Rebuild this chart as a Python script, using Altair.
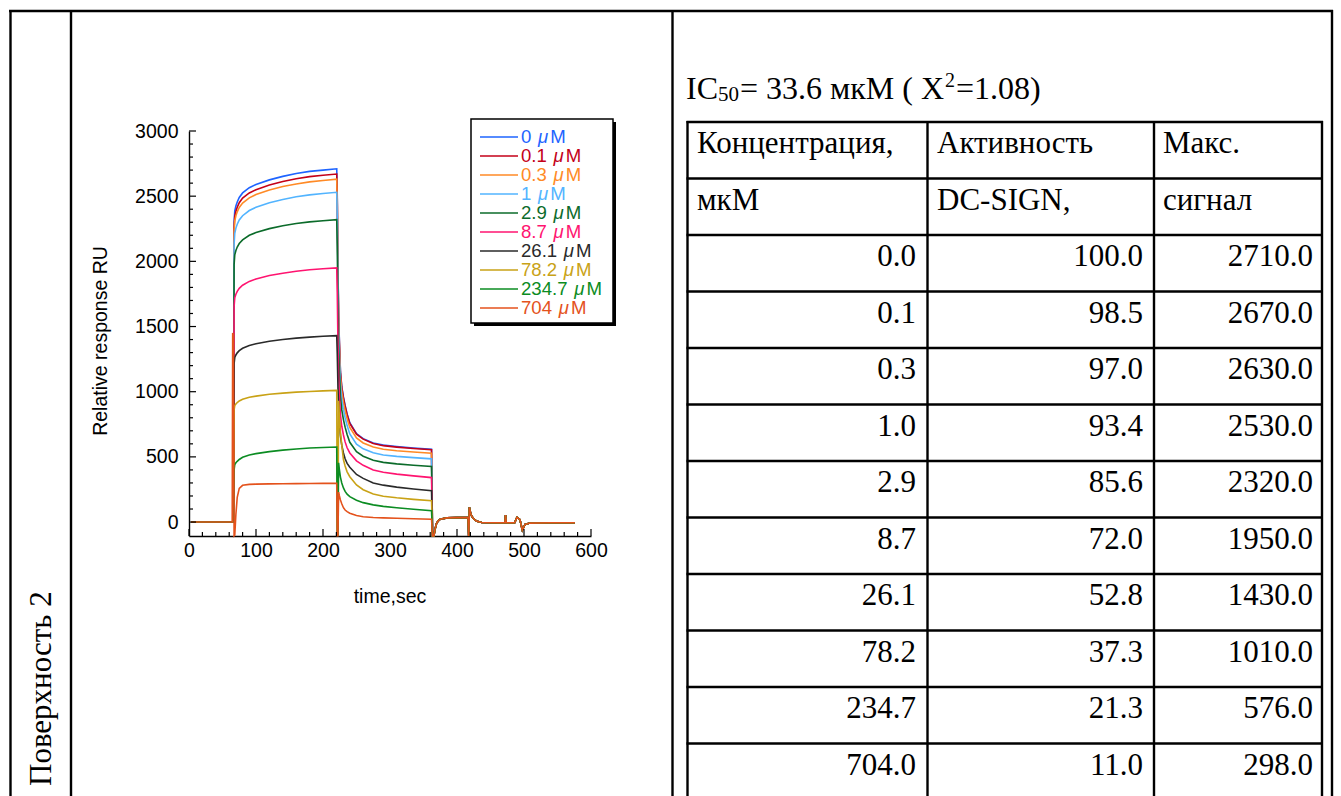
import altair as alt
import pandas as pd

# ---------------- data ----------------
CONC_LABELS = ["0", "0.1", "0.3", "1", "2.9", "8.7", "26.1", "78.2", "234.7", "704"]
COLORS = ["#1e64ff", "#c40018", "#ff8a26", "#52b4ff", "#0b6b2a",
          "#ff1470", "#2a2a2a", "#c9a216", "#0b8c22", "#e4521c"]

# association phase (time, s)
T_ASSOC = [3, 64.5, 65.2, 66.2, 67.3, 68.3, 70, 72, 75, 80, 90, 100, 120, 140, 160, 180, 200, 220.5]
A_0 = [0, 0, 0, 0, 2300, 2385, 2425, 2455, 2490, 2525, 2565, 2590, 2625, 2652, 2674, 2690, 2700, 2710]
A_01 = [0, 0, 0, 0, 2260, 2345, 2385, 2415, 2450, 2485, 2525, 2550, 2585, 2612, 2634, 2650, 2660, 2670]
A_03 = [0, 0, 0, 0, 2225, 2310, 2350, 2380, 2413, 2447, 2487, 2513, 2548, 2574, 2594, 2610, 2620, 2630]
A_1 = [0, 0, 0, 0, 2130, 2215, 2255, 2285, 2318, 2350, 2390, 2415, 2450, 2475, 2495, 2510, 2520, 2530]
A_29 = [0, 0, 0, 0, 1975, 2050, 2083, 2110, 2137, 2165, 2200, 2221, 2251, 2273, 2290, 2303, 2311, 2320]
A_87 = [0, 0, 0, 0, 1655, 1720, 1748, 1770, 1793, 1817, 1846, 1865, 1891, 1909, 1924, 1935, 1943, 1950]
A_261 = [0, 0, 0, 0, 1215, 1262, 1282, 1298, 1315, 1333, 1354, 1368, 1387, 1400, 1411, 1419, 1425, 1430]
A_782 = [0, 0, 0, 0, 860, 893, 906, 917, 929, 942, 957, 966, 980, 989, 997, 1002, 1006, 1010]
A_2347 = [0, 0, 0, 0, 400, 440, 455, 466, 480, 497, 514, 525, 540, 552, 561, 568, 572, 576]
A_704 = [0, 0, 1450, 1440, -105, -100, 60, 190, 258, 282, 289, 291, 293, 294, 295, 296, 297, 298]

# dissociation phase
T_DISS = [221.3, 222.3, 223.3, 224.5, 226, 228, 230.5, 233, 236, 240, 250, 260, 275, 290, 310, 335, 362]
D_0 = [2500, 1950, 1600, 1380, 1160, 1040, 960, 895, 830, 762, 678, 640, 607, 590, 579, 568, 559]
D_01 = [2465, 1930, 1585, 1370, 1150, 1032, 952, 888, 824, 757, 674, 636, 603, 586, 575, 564, 555]
D_03 = [2430, 1900, 1550, 1335, 1115, 998, 918, 855, 792, 726, 645, 607, 575, 558, 547, 537, 528]
D_1 = [2330, 1820, 1480, 1270, 1055, 940, 862, 800, 740, 676, 598, 562, 532, 515, 504, 494, 485]
D_29 = [2120, 1660, 1350, 1160, 965, 860, 786, 728, 672, 612, 540, 505, 474, 458, 446, 436, 426]
D_87 = [1760, 1380, 1130, 975, 825, 735, 668, 615, 570, 530, 470, 435, 400, 382, 368, 354, 341]
D_261 = [1290, 1040, 880, 770, 660, 590, 530, 485, 450, 420, 365, 335, 300, 283, 268, 254, 241]
D_782 = [-100, -100, 930, 800, 690, 590, 480, 430, 385, 348, 285, 248, 215, 198, 186, 174, 164]
D_2347 = [-100, -100, 454, 400, 345, 300, 262, 235, 214, 195, 168, 149, 132, 120, 110, 98, 87]
D_704 = [-105, -105, 230, 200, 170, 140, 110, 92, 80, 68, 50, 41, 35, 32, 29, 25, 21]

# regeneration / wash (common to all curves)
T_REGEN = [363.5, 365.5, 367, 369.5, 372, 375, 385, 400, 416.5, 417.5, 418.5, 420, 422, 424.5,
           427, 430, 437, 460, 471.5, 472.5, 473.5, 486, 489.5, 494, 497.5, 501.5, 509, 540, 576]
V_REGEN = [-107, -107, -60, -10, 10, 22, 32, 34, 34, -107, 113, 75, 45, 28,
           15, 6, -4, -5, -5, 54, -5, -5, 36, 18, -62, -18, -8, -5, -5]

X_LABELS = [0, 100, 200, 300, 400, 500, 600]
Y_LABELS = [0, 500, 1000, 1500, 2000, 2500, 3000]
X_MINOR = [v for v in range(20, 600, 20) if v % 100]
Y_MINOR = [v for v in range(100, 3000, 100) if v % 500]

# table on the right
IC50_PARTS = ["IC", "50", "= 33.6 мкМ ( X", "2", "=1.08)"]
HEADER_1 = ["Концентрация,", "Активность", "Макс."]
HEADER_2 = ["мкМ", "DC-SIGN,", "сигнал"]
CONC_UM = [0.0, 0.1, 0.3, 1.0, 2.9, 8.7, 26.1, 78.2, 234.7, 704.0]
ACTIVITY = [100.0, 98.5, 97.0, 93.4, 85.6, 72.0, 52.8, 37.3, 21.3, 11.0]
MAX_SIGNAL = [2710.0, 2670.0, 2630.0, 2530.0, 2320.0, 1950.0, 1430.0, 1010.0, 576.0, 298.0]

# ---------------- build tables ----------------
ASSOC = [A_0, A_01, A_03, A_1, A_29, A_87, A_261, A_782, A_2347, A_704]
DISS = [D_0, D_01, D_03, D_1, D_29, D_87, D_261, D_782, D_2347, D_704]
rows = []
for i, lab in enumerate(CONC_LABELS):
    ts = T_ASSOC + T_DISS + T_REGEN
    vs = ASSOC[i] + DISS[i] + V_REGEN
    for t, v in zip(ts, vs):
        rows.append({"series": lab, "t": t, "v": v})
curves = pd.DataFrame(rows)

SANS = "Liberation Sans"
SERIF = "Liberation Serif"
FS = 19.5
FS_LEG = 18.6
FS_DOC = 31

# legend layout helpers (Arial metrics)
W = {"0": .556, "1": .556, "2": .556, "3": .556, "4": .556, "5": .556, "6": .556,
     "7": .556, "8": .556, "9": .556, ".": .278, " ": .278}
LEG_X = 521
leg = pd.DataFrame({
    "i": list(range(len(CONC_LABELS))),
    "series": CONC_LABELS,
})
leg["x_mu"] = [LEG_X + (sum(W[c] for c in s) + W[" "]) * FS_LEG + 1.5 for s in CONC_LABELS]
leg["x_M"] = leg["x_mu"] + 0.576 * FS_LEG + 1.5

tbl = pd.DataFrame({"r": list(range(10)), "conc": CONC_UM, "act": ACTIVITY, "mx": MAX_SIGNAL})
hdr = pd.DataFrame({"r": [-2, -2, -2, -1, -1, -1],
                    "txt": HEADER_1 + HEADER_2,
                    "col": [0, 1, 2, 0, 1, 2]})
bounds = pd.DataFrame({"k": list(range(-2, 10))})
ONE = pd.DataFrame({"d": [0]})

# ---------------- sensorgram ----------------
x_scale = alt.Scale(domain=[0, 600], range=[189, 591], nice=False, zero=False)
y_scale = alt.Scale(domain=[-107, 3000], range=[536, 131], nice=False, zero=False)
c_scale = alt.Scale(domain=CONC_LABELS, range=COLORS)

x_axis = alt.Axis(values=X_LABELS, format="d", orient="bottom", offset=-260, title=None,
                  grid=False, ticks=False, domainColor="black", domainWidth=1.4,
                  labelFont=SANS, labelFontSize=FS, labelColor="black", labelPadding=5,
                  labelFlush=False, labelOverlap=False)
y_axis = alt.Axis(values=Y_LABELS, format="d", orient="left", offset=-189, title=None,
                  grid=False, ticks=False, domainColor="black", domainWidth=1.4,
                  labelFont=SANS, labelFontSize=FS, labelColor="black", labelPadding=11,
                  labelFlush=False, labelOverlap=False)

lines = alt.Chart(curves).mark_line(strokeWidth=1.6).encode(
    x=alt.X("t:Q", scale=x_scale, axis=x_axis),
    y=alt.Y("v:Q", scale=y_scale, axis=y_axis),
    color=alt.Color("series:N", scale=c_scale, legend=None),
)

def xticks(vals, length):
    return alt.Chart(pd.DataFrame({"t": vals})).mark_rule(color="black", strokeWidth=1.2).encode(
        x=alt.X("t:Q", scale=x_scale, axis=x_axis),
        y=alt.value(536), y2=alt.value(536 - length))

def yticks(vals, length):
    return alt.Chart(pd.DataFrame({"v": vals})).mark_rule(color="black", strokeWidth=1.2).encode(
        y=alt.Y("v:Q", scale=y_scale, axis=y_axis),
        x=alt.value(189), x2=alt.value(189 + length))

sensor = alt.layer(lines, xticks(X_LABELS, 7), xticks(X_MINOR, 4),
                   yticks(Y_LABELS, 7), yticks(Y_MINOR, 4))

# ---------------- legend ----------------
leg_scale = alt.Scale(domain=[0, 9], range=[137, 308])
leg_y = alt.Y("i:Q", scale=leg_scale, axis=None)
leg_c = alt.Color("series:N", scale=c_scale, legend=None)

box_shadow = alt.Chart(ONE).mark_rect(color="black").encode(
    x=alt.value(474), x2=alt.value(616), y=alt.value(122), y2=alt.value(326))
box = alt.Chart(ONE).mark_rect(fill="white", stroke="black", strokeWidth=1.5).encode(
    x=alt.value(471), x2=alt.value(613), y=alt.value(119), y2=alt.value(323))
leg_lines = alt.Chart(leg).mark_rule(strokeWidth=1.3).encode(
    x=alt.value(480), x2=alt.value(518), y=leg_y, color=leg_c)
leg_num = alt.Chart(leg).mark_text(align="left", baseline="middle", font=SANS, fontSize=FS_LEG).encode(
    x=alt.value(LEG_X), y=leg_y, text="series:N", color=leg_c)
leg_mu = alt.Chart(leg).mark_text(align="left", baseline="middle", font=SANS, fontSize=FS_LEG,
                                  fontStyle="italic", text="μ").encode(
    x=alt.X("x_mu:Q", scale=None, axis=None), y=leg_y, color=leg_c)
leg_M = alt.Chart(leg).mark_text(align="left", baseline="middle", font=SANS, fontSize=FS_LEG,
                                 text="M").encode(
    x=alt.X("x_M:Q", scale=None, axis=None), y=leg_y, color=leg_c)
legend = alt.layer(box_shadow, box, leg_lines, leg_num, leg_mu, leg_M)

# ---------------- right table ----------------
row_scale = alt.Scale(domain=[-2, 10], range=[122, 800])
hlines = alt.Chart(bounds).mark_rule(color="black", strokeWidth=2.4).encode(
    y=alt.Y("k:Q", scale=row_scale, axis=None), x=alt.value(686.5), x2=alt.value(1323))

HDR_X = [697, 937, 1163]
hdr_layers = []
for c in range(3):
    hdr_layers.append(
        alt.Chart(hdr).transform_filter(alt.datum.col == c).mark_text(
            align="left", baseline="alphabetic", dy=31, font=SERIF, fontSize=FS_DOC, color="black"
        ).encode(x=alt.value(HDR_X[c]), y=alt.Y("r:Q", scale=row_scale, axis=None), text="txt:N"))

CELL_X = {"conc": 916, "act": 1143, "mx": 1313}
cell_layers = []
for fld, xr in CELL_X.items():
    cell_layers.append(
        alt.Chart(tbl).mark_text(align="right", baseline="alphabetic", dy=31, font=SERIF,
                                 fontSize=FS_DOC, color="black").encode(
            x=alt.value(xr), y=alt.Y("r:Q", scale=row_scale, axis=None),
            text=alt.Text(f"{fld}:Q", format=".1f")))
table = alt.layer(hlines, *hdr_layers, *cell_layers)

# ---------------- document frame & free text ----------------
def rule(x1, y1, x2, y2, w=2.4):
    return alt.Chart(ONE).mark_rule(color="black", strokeWidth=w).encode(
        x=alt.value(x1), y=alt.value(y1), x2=alt.value(x2), y2=alt.value(y2))

def label(txt, x, y, **kw):
    return alt.Chart(ONE).mark_text(text=txt, color="black", **kw).encode(
        x=alt.value(x), y=alt.value(y))

frame = [rule(9, 11, 1333, 11)]
for xv in [10.5, 71, 672.5, 1332]:
    frame.append(rule(xv, 10, xv, 796))
for xv in [687.5, 927.5, 1154, 1322]:
    frame.append(rule(xv, 121, xv, 796))

IC_FS = 32
texts = [
    label("Поверхность 2", 42, 786, angle=270, align="left", baseline="middle",
          font=SERIF, fontSize=FS_DOC),
    label("Relative response RU", 101, 341, angle=270, align="center", baseline="middle",
          font=SANS, fontSize=FS),
    label("time,sec", 390, 597, align="center", baseline="middle", font=SANS, fontSize=FS),
    label(IC50_PARTS[0], 686, 99, align="left", baseline="alphabetic", font=SERIF, fontSize=IC_FS),
    label(IC50_PARTS[1], 718, 101, align="left", baseline="alphabetic", font=SERIF, fontSize=21),
    label(IC50_PARTS[2], 740, 99, align="left", baseline="alphabetic", font=SERIF, fontSize=IC_FS),
    label(IC50_PARTS[3], 945, 87, align="left", baseline="alphabetic", font=SERIF, fontSize=20),
    label(IC50_PARTS[4], 956, 99, align="left", baseline="alphabetic", font=SERIF, fontSize=IC_FS),
]
deco = alt.layer(*frame, *texts)

chart = alt.layer(deco, sensor, legend, table).resolve_scale(
    x="independent", y="independent"
).properties(
    width=1341, height=796, padding=0, background="white",
    autosize=alt.AutoSizeParams(type="none"),
).configure_view(stroke=None)

chart.save("out.html", embed_options={"renderer": "svg", "actions": False})
